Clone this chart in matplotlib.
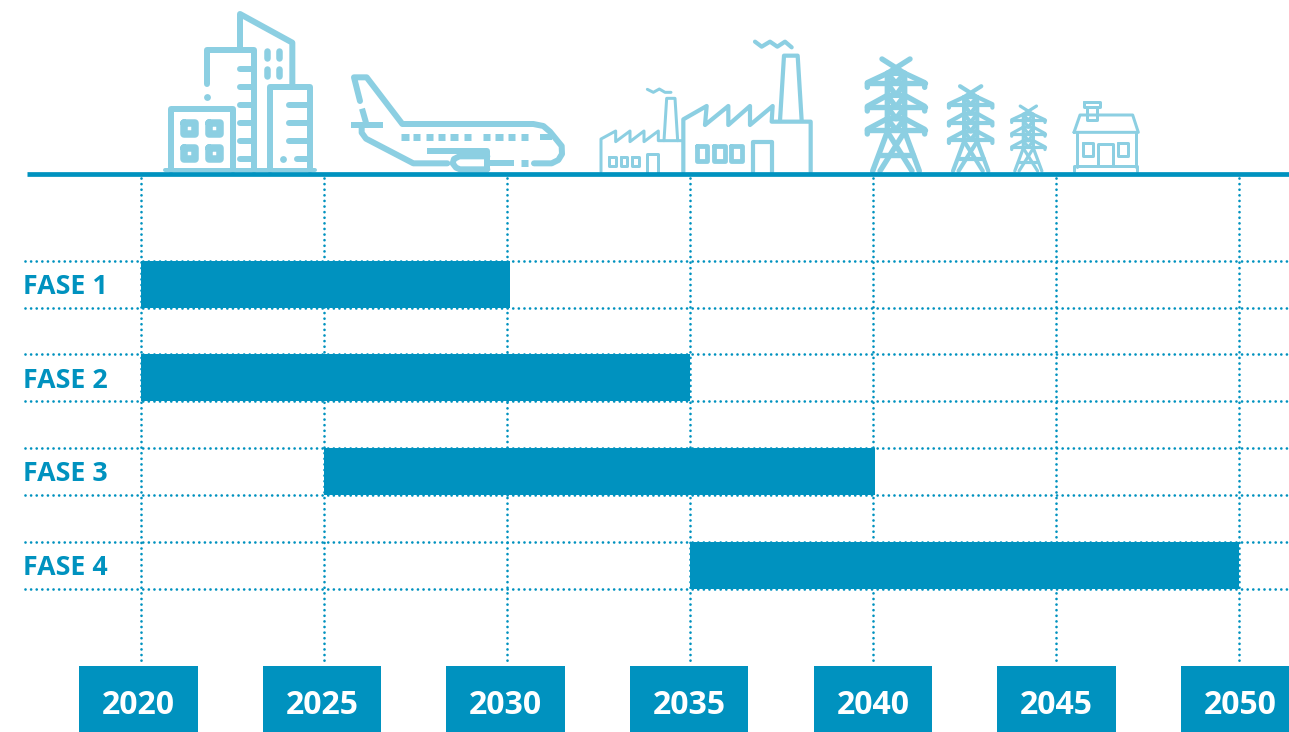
import matplotlib
matplotlib.use("Agg")
import matplotlib.pyplot as plt
import numpy as np

plt.rcParams['font.family'] = ['Open Sans', 'DejaVu Sans']

phases = ['FASE 1', 'FASE 2', 'FASE 3', 'FASE 4']
phase_start = [2020, 2020, 2025, 2035]
phase_end = [2030.07, 2035, 2040.05, 2050]
years = [2020, 2025, 2030, 2035, 2040, 2045, 2050]

BLUE = '#0092bf'
ICON = '#8ccfe2'

W, H = 1289, 732
PX_YEAR = 36.6      # pixels per year
PX_ROW = 93.7       # pixels per phase row
Y_FIRST = 284.2     # pixel height of first row


def px_x(p):
    return 2020 + (p - 141.0) / PX_YEAR


def px_y(p):
    return (p - Y_FIRST) / PX_ROW


fig = plt.figure(figsize=(W / 100, H / 100), dpi=100)

ax = fig.add_axes([0, 0, 1, 1])
ax.set_xlim(px_x(0), px_x(W))
ax.set_ylim(px_y(H), px_y(0))
ax.axis('off')

# dotted grid behind the bars
dots = dict(color=BLUE, lw=1.95, linestyle=(0, (0.01, 2.06)), dash_capstyle='round', zorder=1)
for yr in years:
    ax.plot([yr, yr], [px_y(178), px_y(662)], **dots)
for i in range(len(phases)):
    for edge in (-0.25, 0.25):
        ax.plot([px_x(25), px_x(W)], [i + edge, i + edge], **dots)

# phase bars
ax.barh(range(len(phases)), np.array(phase_end) - np.array(phase_start), left=phase_start,
        height=47 / PX_ROW, color=BLUE, zorder=2)
for i, name in enumerate(phases):
    ax.text(px_x(23.4), i + 9.8 / PX_ROW, name, color=BLUE, fontsize=19.3, fontweight='bold',
            va='baseline', ha='left', zorder=3)

# year boxes sit on a slightly wider pitch than the grid
box_x = px_x(138.3 + 183.65 * np.arange(len(years)))
ax.bar(box_x, px_y(H) - px_y(666), width=118.5 / PX_YEAR, bottom=px_y(666), color=BLUE, zorder=2)
for bx, yr in zip(box_x, years):
    ax.text(bx, px_y(714), str(yr), color='white', fontsize=23, fontweight='bold',
            ha='center', va='baseline', zorder=3)

# icons live on their own overlay in plain pixel units
ic = fig.add_axes([0, 0, 1, 1])
ic.set_xlim(0, W)
ic.set_ylim(H, 0)
ic.axis('off')
ic.patch.set_alpha(0)


def stroke(points, lw, ox=150, oy=0, k=1 / 3, cap='round'):
    pts = np.array(points, dtype=float)
    ic.plot(ox + pts[:, 0] * k, oy + pts[:, 1] * k, color=ICON, lw=lw * 0.72,
            solid_capstyle=cap, solid_joinstyle='round', zorder=4)


def box(x0, y0, x1, y1, lw, ox=150, oy=0):
    stroke([(x0, y0), (x1, y0), (x1, y1), (x0, y1), (x0, y0)], lw, ox, oy)


def spot(x, y, r, ox=150, oy=0):
    ic.plot(ox + x / 3, oy + y / 3, 'o', color=ICON, ms=r * 0.72 * 2, mew=0, zorder=4)


# office buildings
lw = 6
stroke([(45, 510), (495, 510)], 4)
stroke([(62, 510), (62, 328), (250, 328), (250, 510)], lw)
for cx, cy in [(119, 385), (194, 385), (119, 460), (194, 460)]:
    box(cx - 17, cy - 17, cx + 17, cy + 17, 7.5)
stroke([(170, 252), (170, 150), (313, 150), (313, 510)], lw)
spot(170, 290, 3.4)
for y in [208, 262, 316, 370, 424, 478]:
    stroke([(270, y), (305, y)], lw)
stroke([(270, 148), (270, 42), (427, 128), (427, 258)], lw)
for x in [351, 388]:
    for y0 in [152, 207]:
        stroke([(x, y0), (x, y0 + 22)], 6.5)
stroke([(360, 510), (360, 260), (480, 260), (480, 510)], lw)
for y in [316, 370, 424]:
    stroke([(417, y), (472, y)], lw)
stroke([(440, 478), (472, 478)], lw)
spot(399, 477, 3.4)

# airplane
stroke([(630, 303), (612, 232), (650, 232), (757, 372), (1150, 372), (1180, 378), (1200, 395),
        (1235, 438), (1236, 462), (1225, 480), (1205, 490), (1152, 490)], lw)
stroke([(636, 326), (648, 368)], lw, cap='butt')
stroke([(604, 374), (700, 374)], lw, cap='butt')
stroke([(635, 380), (635, 398), (648, 416), (790, 490), (892, 490)], lw)
stroke([(832, 452), (1012, 452), (1012, 505)], lw, cap='butt')
stroke([(1012, 469), (928, 469), (912, 477), (908, 490), (918, 503), (930, 508), (1012, 508)], lw)
stroke([(1020, 490), (1092, 490)], lw, cap='butt')
stroke([(1113, 490), (1135, 490)], 7, cap='butt')
stroke([(1170, 412), (1205, 412)], 6, cap='butt')
for x in [765, 800, 838, 875, 912, 952, 1010, 1047, 1085, 1124]:
    stroke([(x - 11, 412), (x + 11, 412)], 7, cap='butt')

# factories
ox, oy = 590, 30
lw = 3
stroke([(33, 425), (33, 327), (77, 303), (77, 335), (120, 303), (120, 335), (162, 303), (162, 335),
        (205, 303), (205, 332), (280, 332)], lw, ox, oy)
stroke([(222, 332), (230, 205), (255, 205), (263, 332)], lw, ox, oy)
stroke([(172, 178), (190, 187), (208, 177), (225, 187), (243, 187)], lw, ox, oy)
for x0 in [58, 92, 127]:
    box(x0, 380, x0 + 20, 408, lw, ox, oy)
stroke([(170, 425), (170, 372), (205, 372), (205, 425)], lw, ox, oy)
lw = 4.2
stroke([(280, 425), (280, 268), (350, 228), (345, 285), (415, 228), (415, 285), (480, 228), (480, 285),
        (548, 228), (545, 275), (662, 275), (662, 425)], lw, ox, oy)
stroke([(570, 272), (582, 77), (623, 77), (635, 272)], lw, ox, oy)
stroke([(495, 35), (515, 50), (540, 35), (562, 50), (585, 35), (605, 52)], lw, ox, oy)
for x0 in [320, 372, 423]:
    box(x0, 348, x0 + 32, 392, lw + 0.6, ox, oy)
stroke([(490, 425), (490, 335), (545, 335), (545, 425)], lw, ox, oy)


def pylon(cx, scale, lw):
    ox, oy = 850, 45

    def seg(*pts):
        stroke([(cx + x * scale, 378 - y * scale) for x, y in pts], lw, ox, oy)
    # crossed top
    seg((-42, 336), (26, 293))
    seg((42, 336), (-26, 293))
    # three arm levels, each a hat over a straight chord
    levels = [(293, 263), (227, 192), (157, 123)]
    for peak, chord in levels:
        seg((-86, chord - 12), (-86, chord + 2), (-26, peak), (26, peak), (86, chord + 2), (86, chord - 12))
        seg((-86, chord), (86, chord))
        seg((-26, peak), (0, chord), (26, peak))
    for (_, chord), (peak, _) in zip(levels[:-1], levels[1:]):
        seg((-26, chord), (0, peak), (26, chord))
    # mast and lower bracing
    seg((-26, 293), (-26, 118), (-70, 0))
    seg((26, 293), (26, 118), (70, 0))
    seg((-26, 118), (48, 0))
    seg((26, 118), (-48, 0))
    seg((-52, 47), (52, 47))


pylon(138, 1.0, 5.4)
pylon(362, 0.757, 4.2)
pylon(535, 0.58, 3.2)

# house
ox, oy = 850, 45
lw = 3
stroke([(672, 262), (690, 210), (848, 210), (865, 262), (672, 262)], lw, ox, oy)
box(703, 170, 750, 187, lw, ox, oy)
stroke([(710, 187), (710, 226), (742, 226), (742, 187)], lw, ox, oy)
stroke([(680, 262), (680, 365)], lw, ox, oy)
stroke([(857, 262), (857, 365)], lw, ox, oy)
stroke([(673, 378), (673, 364), (862, 364), (862, 378)], lw, ox, oy)
stroke([(745, 364), (745, 298), (790, 298), (790, 364)], lw, ox, oy)
box(700, 295, 730, 333, lw, ox, oy)
box(803, 295, 833, 333, lw, ox, oy)

# ground line on top of the icons
ic.plot([27, W], [173.5, 173.5], color=BLUE, lw=3.4, solid_capstyle='butt', zorder=5)

fig.savefig('out.png', dpi=100)
